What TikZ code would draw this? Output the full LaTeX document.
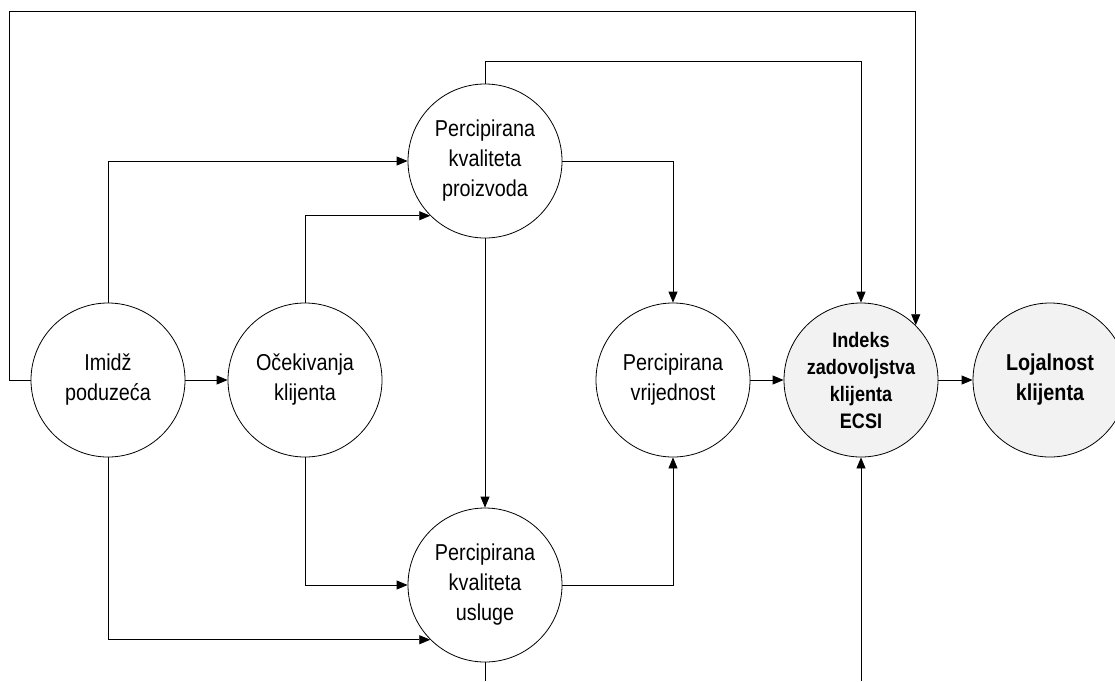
\documentclass[tikz,border=0pt]{standalone}
\usepackage{fontspec}
\setmainfont{Liberation Sans}[FakeStretch=0.86]
\usetikzlibrary{arrows.meta}

\tikzset{
  faktor/.style={circle, draw, line width=0.8pt, minimum size=154pt, inner sep=0pt,
    align=center, font=\fontsize{23}{30}\selectfont},
  indeks/.style={faktor, fill=gray!10, font=\bfseries\fontsize{21}{27}\selectfont},
  lojalnost/.style={indeks, font=\bfseries\fontsize{23}{30}\selectfont},
  veza/.style={-{Triangle[length=11pt,width=9pt]}, line width=0.8pt},
  linija/.style={line width=0.8pt}
}

\begin{document}
\begin{tikzpicture}[x=1pt,y=-1pt]
  \useasboundingbox (0,0) rectangle (1115,681);

  \node[faktor] (imidz) at (108,380) {Imidž\\poduzeća};
  \node[faktor] (ocek) at (305,380) {Očekivanja\\klijenta};
  \node[faktor] (pkp) at (485,161) {Percipirana\\kvaliteta\\proizvoda};
  \node[faktor] (pku) at (485,585) {Percipirana\\kvaliteta\\usluge};
  \node[faktor] (pv) at (673,380) {Percipirana\\vrijednost};
  \node[indeks] (ecsi) at (861,380) {Indeks\\zadovoljstva\\klijenta\\ECSI};
  \node[lojalnost] (loj) at (1050,380) {Lojalnost\\klijenta};

  \coordinate (vanjska) at (9,11);
  \coordinate (pkudno) at (485,681);
  \coordinate (ecsidno) at (861,681);

  \draw[veza] (imidz.west) -| (vanjska) -| (ecsi.45);
  \draw[veza] (pkp.north) -- ++(0,-22) -| (ecsi.north);
  \draw[veza] (imidz.north) |- (pkp.west);
  \draw[veza] (ocek.north) |- (pkp.225);
  \draw[veza] (imidz.east) -- (ocek.west);
  \draw[veza] (pkp.east) -| (pv.north);
  \draw[veza] (pkp.south) -- (pku.north);
  \draw[veza] (ocek.south) |- (pku.west);
  \draw[veza] (imidz.south) |- (pku.225);
  \draw[veza] (pku.east) -| (pv.south);
  \draw[veza] (pv.east) -- (ecsi.west);
  \draw[veza] (ecsi.east) -- (loj.west);
  \draw[linija] (pku.south) -- (pkudno);
  \draw[veza] (ecsidno) -- (ecsi.south);
\end{tikzpicture}
\end{document}
